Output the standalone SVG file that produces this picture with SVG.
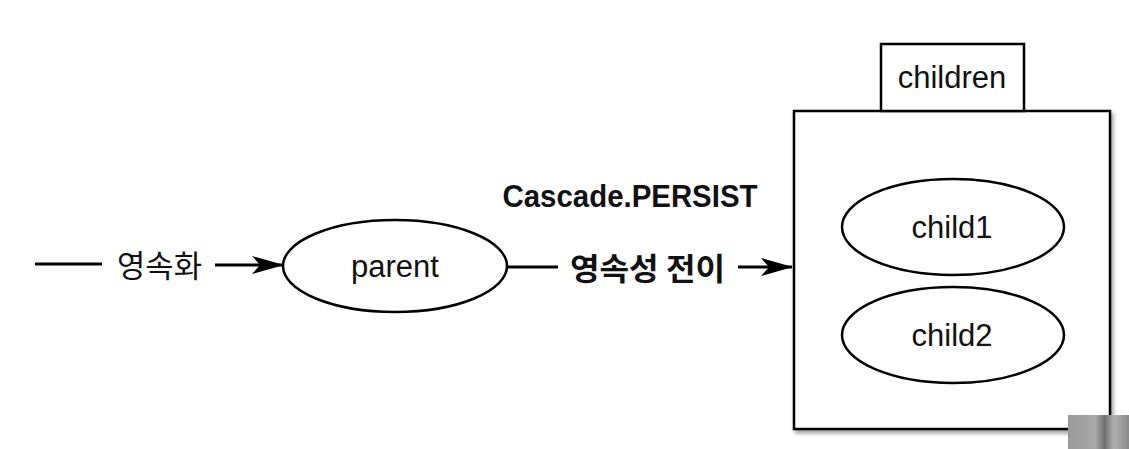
<svg xmlns="http://www.w3.org/2000/svg" width="1129" height="449" viewBox="0 0 1129 449">
<defs>
<style>
.shape{fill:#fff;stroke:#000;stroke-width:2.5}
.lbl{font-family:"Liberation Sans","Noto Sans CJK KR",sans-serif;font-size:31px;fill:#111;text-anchor:middle}
.kr{font-family:"Noto Sans CJK KR",sans-serif;font-size:31px;fill:#111}
.bold{font-weight:bold}
.conn{stroke:#000;stroke-width:3;fill:none}
</style>
<marker id="arr" markerWidth="32" markerHeight="18" refX="31" refY="9" orient="auto" markerUnits="userSpaceOnUse" viewBox="0 0 32 18">
<path d="M0,0 L32,9 L0,18 L8,9 Z" fill="#000"/>
</marker>
<filter id="sh" x="-5%" y="-5%" width="115%" height="115%">
<feDropShadow dx="2" dy="3" stdDeviation="2" flood-color="#000" flood-opacity="0.4"/>
</filter>
<linearGradient id="gr" x1="0" y1="0" x2="1" y2="0">
<stop offset="0" stop-color="#9a9a9a"/>
<stop offset="0.45" stop-color="#a8a8a8"/>
<stop offset="0.6" stop-color="#6e6e6e"/>
<stop offset="0.75" stop-color="#b0b0b0"/>
<stop offset="1" stop-color="#8a8a8a"/>
</linearGradient>
</defs>
<rect width="1129" height="449" fill="#fff"/>
<g id="connectors">
<line class="conn" x1="35" y1="264" x2="102" y2="264"/>
<line class="conn" x1="215" y1="265" x2="283" y2="265" marker-end="url(#arr)"/>
<line class="conn" x1="507" y1="267" x2="558" y2="267"/>
<line class="conn" x1="738" y1="267" x2="792" y2="267" marker-end="url(#arr)"/>
<text class="kr" x="117" y="277" textLength="85" lengthAdjust="spacingAndGlyphs">영속화</text>
<text class="kr bold" x="570" y="280" font-weight="bold" textLength="155" lengthAdjust="spacingAndGlyphs">영속성 전이</text>
<text class="lbl bold" x="630" y="207" textLength="255" lengthAdjust="spacingAndGlyphs">Cascade.PERSIST</text>
</g>
<g id="parent">
<ellipse class="shape" cx="395" cy="266" rx="112" ry="46"/>
<text class="lbl" x="395" y="277">parent</text>
</g>
<g id="children">
<rect class="shape" x="794" y="111" width="316" height="318" filter="url(#sh)"/>
<rect class="shape" x="881" y="44" width="143" height="67"/>
<text class="lbl" x="952" y="88">children</text>
</g>
<g id="child1">
<ellipse class="shape" cx="953" cy="227" rx="111" ry="48"/>
<text class="lbl" x="952" y="238">child1</text>
</g>
<g id="child2">
<ellipse class="shape" cx="953" cy="335" rx="111" ry="48"/>
<text class="lbl" x="952" y="346">child2</text>
</g>
<rect x="1068" y="415" width="61" height="34" fill="url(#gr)"/>
</svg>
